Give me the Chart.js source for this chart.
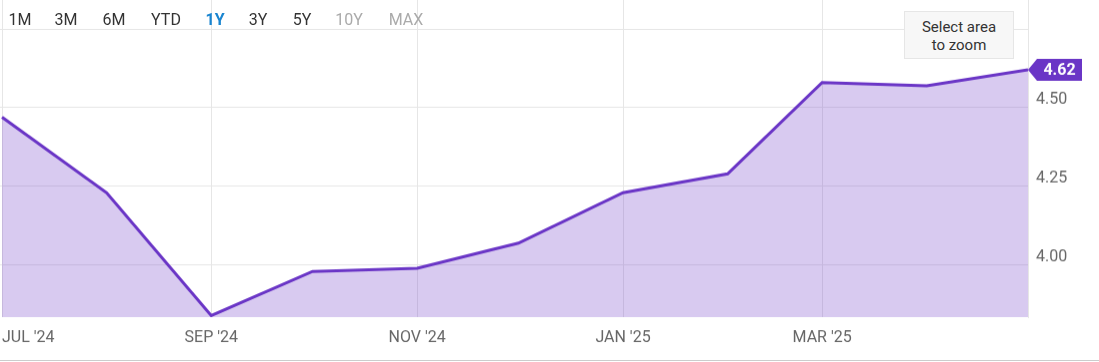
<!DOCTYPE html>
<html>
<head>
<meta charset="utf-8">
<script src="https://cdn.jsdelivr.net/npm/chart.js@4"></script>
<style>
  html, body { margin: 0; padding: 0; background: #fff; }
  #wrap { position: relative; width: 1099px; height: 362px; font-family: Roboto, sans-serif; }
  #wrap canvas { display: block; border-bottom: 1px solid #ccc; }
  .range { position: absolute; top: 10px; font-size: 16px; color: #333; transform: translateX(-50%); white-space: nowrap; }
  .range.active { color: #1a85d0; font-weight: bold; }
  .range.off { color: #aaa; }
  #zoomHint {
    position: absolute; left: 904px; top: 11px; width: 108px; height: 40px;
    background: #f7f7f7; border: 1px solid #e6e6e6; color: #333;
    font-size: 15px; line-height: 18px; text-align: center; padding-top: 6px; box-sizing: content-box;
  }
</style>
</head>
<body>
<div id="wrap">
  <canvas id="chart" width="1099" height="361"></canvas>
  <div id="zoomHint">Select area<br>to zoom</div>
</div>
<script>
// monthly readings, first of each month
const dates = ['2024-07-01', '2024-08-01', '2024-09-01', '2024-10-01', '2024-11-01', '2024-12-01',
               '2025-01-01', '2025-02-01', '2025-03-01', '2025-04-01', '2025-05-01'];
const values = [4.47, 4.23, 3.84, 3.98, 3.99, 4.07, 4.23, 4.29, 4.58, 4.57, 4.62];

const xTickDates = ['2024-07-01', '2024-09-01', '2024-11-01', '2025-01-01', '2025-03-01', '2025-05-01'];
const xTickLabels = ["JUL '24", "SEP '24", "NOV '24", "JAN '25", "MAR '25", ""];

const yTickValues = [4.0, 4.25, 4.5, 4.75];
const yTickLabels = ['4.00', '4.25', '4.50', ''];

const rangeButtons = ['1M', '3M', '6M', 'YTD', '1Y', '3Y', '5Y', '10Y', 'MAX'];
const rangeCenters = [20, 66, 114, 166, 215, 258, 302, 349, 406];
const activeRange = '1Y';
const disabledRanges = ['10Y', 'MAX'];

const DAY = 86400000;
const start = Date.parse(dates[0]);
const toDay = d => Math.round((Date.parse(d) - start) / DAY);

const points = dates.map((d, i) => ({ x: toDay(d), y: values[i] }));
const xTicks = xTickDates.map(toDay);

const purple = '#6a35c6';

// buttons along the top
const wrap = document.getElementById('wrap');
rangeButtons.forEach((b, i) => {
  const s = document.createElement('span');
  s.className = 'range' + (b === activeRange ? ' active' : '') + (disabledRanges.includes(b) ? ' off' : '');
  s.style.left = rangeCenters[i] + 'px';
  s.textContent = b;
  wrap.appendChild(s);
});

// no extra room around the plot for tick labels
const noPad = s => { s.paddingLeft = 0; s.paddingRight = 0; s.paddingTop = 0; s.paddingBottom = 0; };

// tag showing the latest value on the right axis
const lastValueTag = {
  id: 'lastValueTag',
  afterDraw(chart) {
    const { ctx, scales } = chart;
    const last = points[points.length - 1];
    const x = chart.chartArea.right;
    const y = scales.y.getPixelForValue(last.y);
    const h = 22, w = 45, arrow = 9;
    ctx.save();
    ctx.fillStyle = purple;
    ctx.beginPath();
    ctx.moveTo(x, y);
    ctx.lineTo(x + arrow, y - h / 2);
    ctx.lineTo(x + arrow + w, y - h / 2);
    ctx.lineTo(x + arrow + w, y + h / 2);
    ctx.lineTo(x + arrow, y + h / 2);
    ctx.closePath();
    ctx.fill();
    ctx.fillStyle = '#fff';
    ctx.font = 'bold 16px Roboto';
    ctx.textAlign = 'center';
    ctx.textBaseline = 'middle';
    ctx.fillText(last.y.toFixed(2), x + arrow + w / 2, y + 1);
    ctx.restore();
  }
};

new Chart(document.getElementById('chart'), {
  type: 'line',
  data: {
    datasets: [{
      data: points,
      borderColor: purple,
      borderWidth: 3,
      backgroundColor: 'rgba(110, 60, 200, 0.27)',
      fill: 'start',
      pointRadius: 0,
      tension: 0
    }]
  },
  options: {
    responsive: false,
    animation: false,
    layout: { padding: 0 },
    plugins: { legend: { display: false }, tooltip: { enabled: false } },
    scales: {
      x: {
        type: 'linear',
        min: -0.6,
        max: toDay(dates[dates.length - 1]),
        afterBuildTicks: s => { s.ticks = xTicks.map(v => ({ value: v })); },
        afterFit: s => { s.height = 43; noPad(s); },
        grid: { color: '#e6e6e6', drawTicks: false },
        border: { display: false },
        ticks: {
          align: 'inner',
          padding: 11,
          color: '#666',
          font: { family: 'Roboto', size: 16 },
          maxRotation: 0,
          autoSkip: false,
          callback: (v, i) => xTickLabels[i]
        }
      },
      y: {
        position: 'right',
        min: 3.835,
        max: 4.842,
        afterBuildTicks: s => { s.ticks = yTickValues.map(v => ({ value: v })); },
        afterFit: s => { s.width = 71; noPad(s); },
        grid: { color: '#e6e6e6', drawTicks: false },
        border: { display: true, color: '#e6e6e6' },
        ticks: {
          padding: 8,
          labelOffset: -8,
          color: '#666',
          font: { family: 'Roboto', size: 16 },
          callback: (v, i) => yTickLabels[i]
        }
      }
    }
  },
  plugins: [lastValueTag]
});
</script>
</body>
</html>
